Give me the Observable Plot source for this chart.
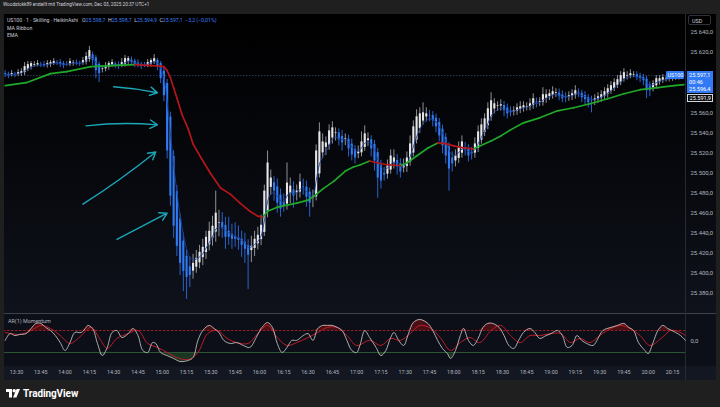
<!DOCTYPE html>
<html><head><meta charset="utf-8">
<script src="https://cdn.jsdelivr.net/npm/d3@7"></script>
<script src="https://cdn.jsdelivr.net/npm/@observablehq/plot@0.6"></script>
<style>
html,body{margin:0;padding:0;background:#1f1f1f;}
#root{position:relative;width:720px;height:407px;overflow:hidden;background:#1f1f1f;font-family:Roboto,"Noto Sans",sans-serif;}
.a{position:absolute;white-space:nowrap;}
#paneMain{left:4px;top:14px;width:712px;height:299px;background:linear-gradient(#000 0%,#05060a 40%,#0f121b 100%);}
#paneOsc{left:4px;top:314px;width:712px;height:52px;background:#0c0f17;}
#paneTime{left:4px;top:366px;width:712px;height:14px;background:#131722;}
#sepH{left:4px;top:313px;width:712px;height:1px;background:#3e424d;}
#sepV{left:685px;top:14px;width:1px;height:366px;background:#262a35;}
#svgMain{left:4px;top:14px;}
#svgOsc{left:4px;top:314px;}
.hdr{left:3px;top:2px;font-size:4.7px;color:#d1d4dc;}
.leg{left:7px;font-size:5.2px;color:#c9ccd4;}
.b{color:#3d7ff5;}
.box{background:#3179f5;color:#fff;font-size:5.6px;text-align:left;}
</style></head>
<body><div id="root">
<div class="a" id="paneMain"></div>
<div class="a" id="paneOsc"></div>
<div class="a" id="paneTime"></div>
<div class="a" id="sepH"></div>
<div class="a" id="sepV"></div>
<div class="a hdr" id="hdr"></div>
<div class="a leg" style="top:16.5px" id="leg1"></div>
<div class="a leg" style="top:24.5px">MA Ribbon</div>
<div class="a leg" style="top:31.5px">EMA</div>
<div class="a leg" style="top:317.5px;left:8px;font-size:5.4px;color:#b2b5be">AR(1) Momentum</div>
<div class="a" style="left:688px;top:15px;width:23px;height:10px;border:1px solid #2f323b;border-radius:2px;box-sizing:border-box;font-size:5.4px;color:#d1d4dc;padding:1.5px 0 0 3px">USD</div>
<div class="a box" style="left:666px;top:71px;width:18px;height:8px;font-size:5.4px;padding:1px 0 0 1.5px;box-sizing:border-box;border-radius:1px">US100</div>
<div class="a box" style="left:687px;top:71px;width:26px;height:22px;padding:1px 0 0 2px;box-sizing:border-box;line-height:6.8px">25.597,1<br>00:46<br>25.596,4</div>
<div class="a" style="left:687px;top:93.5px;width:26px;height:8px;border:1px solid #d1d4dc;background:#0b0c10;color:#fff;font-size:5.6px;padding:0.5px 0 0 1.5px;box-sizing:border-box">25.591,9</div>
<div class="a" style="left:6px;top:388px;display:flex;align-items:center;gap:3px">
<svg width="14" height="9" viewBox="0 0 14 9"><path d="M0 0h6v8.5h-3v-5.5h-3z" fill="#fff"/><circle cx="8.2" cy="1.8" r="1.7" fill="#fff"/><path d="M10.6 0h3.4l-3.6 8.5h-3.4z" fill="#fff"/></svg>
<span style="font-size:10px;font-weight:700;color:#fff;letter-spacing:-0.1px">TradingView</span></div>
</div>
<script>
// ---- data ----
const header = "Woodstokk89 erstellt mit TradingView.com, Dec 03, 2025 20:37 UTC+1";
const candleStart = "13:23"; // 2-minute Heikin Ashi candles
const closes = [
25598,25597,25599,25598,25600,25601,25606,25608,25609,25608,
25609,25608,25607,25609,25610,25611,25610,25608,25607,25608,
25611,25610,25609,25609,25612,25616,25622,25612,25602,25599,
25604,25607,25609,25610,25607,25606,25610,25614,25614,25610,
25608,25607,25606,25607,25610,25612,25614,25606,25594,25577,
25522,25477,25447,25427,25410,25402,25396,25398,25410,25415,
25421,25426,25436,25442,25447,25460,25451,25445,25436,25436,
25434,25434,25433,25428,25424,25418,25427,25434,25438,25448,
25482,25510,25495,25482,25470,25464,25467,25490,25487,25477,
25482,25491,25486,25476,25470,25477,25522,25541,25531,25530,
25542,25545,25540,25533,25530,25534,25524,25518,25515,25521,
25531,25539,25534,25524,25512,25495,25492,25498,25507,25517,
25515,25506,25501,25508,25515,25529,25546,25556,25559,25560,
25559,25557,25552,25546,25537,25527,25517,25504,25509,25517,
25525,25531,25523,25517,25519,25529,25541,25548,25554,25564,
25572,25569,25567,25568,25562,25559,25560,25562,25565,25566,
25567,25566,25569,25574,25570,25571,25578,25578,25579,25581,
25580,25576,25574,25575,25577,25579,25582,25579,25575,25573,
25570,25572,25574,25576,25578,25581,25584,25587,25590,25593,
25597,25600,25597,25599,25598,25595,25594,25592,25582,25582,
25589,25594,25594,25595,25594,25595,25596,25596,25597,25597.1];
const wickUp = [
3,2,3,2,3,3,4,3,2,3, 3,2,3,3,2,3,2,3,2,3, 3,2,3,2,3,4,4,3,2,2, 3,3,2,3,2,3,4,3,2,3,
2,3,2,3,3,2,4,2,2,3, 4,5,6,6,5,8,6,10,9,8, 7,8,6,9,10,22,12,10,8,14, 10,14,12,8,9,6,10,8,8,10,
6,12,8,6,8,6,8,20,8,8, 6,8,8,6,4,6,6,9,8,6, 6,6,5,4,6,5,4,5,4,6, 10,8,6,4,4,4,5,6,6,6,
8,6,5,6,6,8,6,7,6,10, 6,5,4,4,4,4,4,4,6,6, 6,6,5,4,5,6,6,6,5,6, 8,5,4,5,4,4,4,4,4,5,
4,4,5,5,4,4,7,5,4,5, 4,4,4,4,4,4,5,4,3,4, 3,4,4,4,4,4,4,4,4,4, 4,4,4,4,3,3,3,3,3,3,
3,3,3,3,3,3,3,2,2,2];
const wickDn = [
3,3,2,3,2,3,3,2,3,2, 2,3,2,3,3,2,3,3,3,2, 2,3,2,3,2,3,3,5,8,9, 4,3,3,2,3,3,2,3,3,2,
3,2,3,2,2,3,2,4,5,6, 8,10,12,10,12,20,22,12,8,6, 6,8,7,6,8,10,14,10,12,8, 10,8,10,12,14,34,12,8,6,6,
4,6,8,10,10,8,6,6,10,12, 8,6,8,10,14,10,4,4,6,8, 5,6,8,6,8,6,8,6,6,5, 4,4,6,8,10,20,8,6,5,4,
6,8,6,5,6,4,4,4,5,4, 5,6,6,6,6,8,8,22,8,6, 5,5,6,6,6,5,4,4,4,4, 4,5,5,5,6,5,4,4,4,4,
4,4,4,4,5,4,4,5,4,4, 4,4,4,5,4,4,4,4,5,5, 5,12,5,4,4,4,4,3,3,3, 3,3,4,3,3,3,4,5,8,6,
4,3,3,3,3,3,3,3,3,3];
const maTimes = ["13:23","13:36","13:51","14:01","14:16","14:28","14:43","14:53","14:59","15:01","15:03","15:05","15:07","15:09","15:12","15:16","15:19","15:24","15:30","15:36","15:42","15:48","15:54","15:59","16:02","16:05","16:11","16:17","16:23","16:30","16:33","16:39","16:46","16:53","16:58","17:02","17:08","17:13","17:20","17:27","17:31","17:37","17:44","17:50","17:54","18:00","18:06","18:12","18:16","18:23","18:29","18:35","18:43","18:53","19:04","19:14","19:24","19:35","19:45","19:55","20:06","20:16","20:22"];
const maValues = [25587,25590,25599,25601,25606,25607,25608,25607,25606.5,25606,25602,25595,25585,25575,25559,25544,25529,25515,25499,25485,25479,25470,25462,25457,25456,25462,25466,25468,25470,25473,25476,25484,25492,25502,25506,25508,25512,25510,25508,25507.5,25510,25517,25525,25530,25529.5,25527,25525,25524,25527,25532,25537,25543,25550,25555,25562,25565,25569,25574,25579,25583,25585,25587,25588];
const oscTimes = ["13:23","13:26","13:29","13:32","13:36","13:39","13:42","13:45","13:48","13:51","13:54","13:57","14:00","14:03","14:06","14:10","14:13","14:14","14:17","14:20","14:23","14:26","14:29","14:32","14:35","14:39","14:42","14:45","14:48","14:51","14:54","14:56","14:59","15:03","15:07","15:11","15:16","15:19","15:22","15:25","15:29","15:32","15:35","15:38","15:42","15:46","15:50","15:54","15:58","16:01","16:05","16:08","16:11","16:14","16:17","16:20","16:23","16:27","16:30","16:33","16:36","16:39","16:42","16:45","16:48","16:51","16:54","16:57","17:00","17:02","17:05","17:08","17:12","17:15","17:18","17:21","17:23","17:26","17:29","17:32","17:35","17:39","17:44","17:47","17:50","17:53","17:56","17:58","18:01","18:04","18:06","18:09","18:12","18:15","18:18","18:21","18:24","18:28","18:31","18:34","18:37","18:40","18:43","18:47","18:50","18:53","18:57","19:00","19:04","19:07","19:10","19:13","19:16","19:19","19:22","19:26","19:29","19:32","19:37","19:41","19:45","19:48","19:51","19:54","19:58","20:00","20:03","20:06","20:09","20:12","20:17","20:20","20:23"];
const oscValues = [0.05,0.36,0.27,0.32,0.36,0.59,0.82,0.82,0.64,0.5,0.27,-0.05,-0.41,-0.05,0.41,0.41,0.64,0.73,0.59,-0.09,-0.64,-0.27,0.41,0.5,0.18,0.36,0.59,0.27,-0.41,-0.5,-0.05,-0.09,-0.5,-0.64,-0.77,-0.91,-0.86,-0.73,0.05,0.5,0.73,0.59,0.41,0.05,-0.09,-0.05,-0.18,-0.27,0.18,0.59,0.86,0.64,-0.09,-0.5,-0.27,0.05,0.05,0.27,0.36,0.05,0.59,0.73,0.73,0.73,0.64,0.5,0.05,-0.41,-0.5,-0.18,0.5,0.18,-0.27,-0.64,-0.41,0.18,0.41,0.05,-0.18,0.36,0.86,1.0,0.82,0.5,0.05,-0.32,-0.55,-0.77,-0.41,0.27,0.59,0.05,-0.18,0.14,0.64,0.82,0.82,0.64,0.27,-0.18,-0.32,0.05,0.41,0.59,0.41,0.14,0.27,0.36,0.5,0.27,-0.27,-0.18,0.27,0.05,-0.09,-0.18,0.14,0.5,0.64,0.73,0.82,0.64,0.5,-0.05,-0.41,-0.55,-0.05,0.5,0.73,0.59,0.41,0.27,0.05];
const sigTimes = ["13:23","13:32","13:39","13:45","13:51","13:57","14:03","14:10","14:16","14:22","14:26","14:32","14:39","14:45","14:51","14:57","15:03","15:09","15:16","15:22","15:28","15:34","15:40","15:46","15:53","15:59","16:05","16:11","16:17","16:23","16:30","16:36","16:42","16:48","16:54","17:00","17:08","17:15","17:21","17:27","17:33","17:39","17:46","17:52","17:58","18:04","18:10","18:16","18:23","18:29","18:35","18:41","18:47","18:53","19:00","19:06","19:12","19:18","19:24","19:30","19:37","19:43","19:49","19:55","20:01","20:08","20:14","20:20","20:23"];
const sigValues = [0.41,0.32,0.5,0.73,0.59,0.27,-0.09,0.27,0.64,0.05,-0.32,0.14,0.36,0.5,-0.09,-0.27,-0.5,-0.73,-0.82,-0.5,0.36,0.5,0.14,-0.05,-0.09,0.36,0.73,0.18,-0.18,-0.05,0.18,0.41,0.64,0.64,0.27,-0.18,0.05,-0.18,0.14,0.05,0.36,0.73,0.59,0.14,-0.41,-0.05,0.18,-0.05,0.5,0.73,0.27,-0.05,0.27,0.27,0.36,0.36,-0.05,0.14,-0.05,0.27,0.59,0.73,0.59,0.27,-0.18,0.14,0.5,0.41,0.27];
const oscLevels = [0.5, -0.5];
const arrowFromT = ["14:30","14:13","14:11","14:32"];
const arrowFromP = [25586,25547,25469,25434];
const arrowToT = ["14:57","14:57","14:56","15:03"];
const arrowToP = [25580,25548,25521,25460];
// price ticks visible on the axis (25.580 and 25.600 sit under the price boxes)
const priceTicks = [25380,25400,25420,25440,25460,25480,25500,25520,25540,25560,25620,25640];
const timeTicks = ["13:30","13:45","14:00","14:15","14:30","14:45","15:00","15:15","15:30","15:45","16:00","16:15","16:30","16:45","17:00","17:15","17:30","17:45","18:00","18:15","18:30","18:45","19:00","19:15","19:30","19:45","20:00","20:15"];
const legendParts = [["US100 · 1 · Skilling · HeikinAshi  ",""],["O","25.598,7"],["H","25.598,7"],["L","25.594,9"],["C","25.597,1"],["","−3,2 (−0,01%)"]];

// ---- build ----
document.getElementById("hdr").textContent = header;
document.getElementById("leg1").innerHTML = legendParts.map(([k,v]) => k + (v ? `<span class="b">${v}</span>` : "")).join("&nbsp;&nbsp;");
const T = hm => { const [h, m] = hm.split(":").map(Number); return new Date(Date.UTC(2025, 11, 3, h, m)); };
const fmtDE = d3.formatLocale({decimal: ",", thousands: ".", grouping: [3], currency: ["", ""]}).format(",.1f");
const t0 = +T(candleStart);
let pO = closes[0] + 1, pC = closes[0];
const candles = closes.map((c, i) => {
  const o = i === 0 ? pO : (pO + pC) / 2;
  pO = o; pC = c;
  const top = Math.max(o, c), bot = Math.min(o, c);
  return {date: new Date(t0 + i * 120000), open: o, close: Math.abs(c - o) < 0.6 ? o - 0.6 : c,
          high: top + wickUp[i], low: bot - wickDn[i], up: c >= o};
});
let e = closes[0];
const ema = closes.map((c, i) => { e = i ? e + (c - e) * 2 / 6 : c; return {date: new Date(t0 + i * 120000), v: e}; });
const maPts = maTimes.map((t, i) => ({date: T(t), v: maValues[i]}));
const maSegs = d3.pairs(maPts).map(([a, b]) => ({x1: a.date, y1: a.v, x2: b.date, y2: b.v, down: b.v < a.v}));
const arrows = arrowFromT.map((t, i) => ({x1: T(t), y1: arrowFromP[i], x2: T(arrowToT[i]), y2: arrowToP[i]}));
const bends = [4, 6, -3, 0];
const oscPts = oscTimes.map((t, i) => ({date: T(t), v: oscValues[i]}));
const sigPts = sigTimes.map((t, i) => ({date: T(t), v: sigValues[i]}));
const xDomain = [T("13:30"), T("20:15")];
const xL = T("13:22"), xR = T("20:23");
const st = {background: "transparent", color: "#b2b5be", fontFamily: "Roboto, sans-serif", position: "absolute"};

const main = Plot.plot({
  width: 712, height: 299, marginLeft: 12, marginRight: 44, marginTop: 18, marginBottom: 20,
  style: st,
  x: {type: "utc", domain: xDomain, axis: null},
  y: {domain: [25380, 25640]},
  marks: [
    Plot.axisY({ticks: priceTicks, anchor: "right", tickSize: 0, tickPadding: 18, tickFormat: fmtDE, fontSize: 5.9, fill: "#b2b5be", label: null}),
    Plot.ruleY([closes[closes.length - 1]], {x1: xL, x2: xR, stroke: "#2a3a60", strokeDasharray: "1.5,1.5"}),
    Plot.ruleX(candles.filter(d => d.up), {x: "date", y1: "low", y2: "high", stroke: "#8f9196", strokeWidth: 1}),
    Plot.ruleX(candles.filter(d => !d.up), {x: "date", y1: "low", y2: "high", stroke: "#2a62cc", strokeWidth: 1}),
    Plot.ruleX(candles.filter(d => d.up), {x: "date", y1: "open", y2: "close", stroke: "#e6e6e8", strokeWidth: 2.1}),
    Plot.ruleX(candles.filter(d => !d.up), {x: "date", y1: "open", y2: "close", stroke: "#2f7bf2", strokeWidth: 2.1}),
    Plot.line(ema, {x: "date", y: "v", stroke: "#1b3f99", strokeWidth: 0.9, curve: "catmull-rom"}),
    Plot.link(maSegs.filter(d => !d.down), {x1: "x1", y1: "y1", x2: "x2", y2: "y2", stroke: "#1fa82a", strokeWidth: 1.7, strokeLinecap: "round"}),
    Plot.link(maSegs.filter(d => d.down), {x1: "x1", y1: "y1", x2: "x2", y2: "y2", stroke: "#b3161b", strokeWidth: 1.7, strokeLinecap: "round"}),
    ...arrows.map((a, i) => Plot.arrow([a], {x1: "x1", y1: "y1", x2: "x2", y2: "y2", bend: bends[i], stroke: "#1ba6b8", strokeWidth: 1.4, headLength: 9}))
  ]
});
main.id = "svgMain"; main.classList.add("a");
document.getElementById("root").appendChild(main);

const osc = Plot.plot({
  width: 712, height: 66, marginLeft: 12, marginRight: 44, marginTop: 0, marginBottom: 14,
  style: st,
  x: {type: "utc", domain: xDomain, axis: null},
  y: {domain: [-1.136, 1.227], axis: null},
  marks: [
    Plot.areaY(oscPts, {x: "date", y1: oscLevels[0], y2: d => Math.max(d.v, oscLevels[0]), curve: "catmull-rom", fill: "#4a0f14"}),
    Plot.areaY(oscPts, {x: "date", y1: oscLevels[1], y2: d => Math.min(d.v, oscLevels[1]), curve: "catmull-rom", fill: "#1a3622"}),
    Plot.ruleY([oscLevels[0]], {x1: xL, x2: xR, stroke: "#9a2027", strokeDasharray: "2.5,1.5"}),
    Plot.ruleY([oscLevels[1]], {x1: xL, x2: xR, stroke: "#2c5534"}),
    Plot.line(sigPts, {x: "date", y: "v", curve: "catmull-rom", stroke: "#c01d29", strokeWidth: 1}),
    Plot.line(oscPts, {x: "date", y: "v", curve: "catmull-rom", stroke: "#bdbdbd", strokeWidth: 0.9}),
    Plot.axisX({ticks: timeTicks.map(T), tickFormat: "%H:%M", tickSize: 0, tickPadding: 4, fontSize: 5.4, fill: "#b2b5be", label: null}),
    Plot.axisY({ticks: [0], anchor: "right", tickSize: 0, tickPadding: 18, tickFormat: fmtDE, fontSize: 5.9, fill: "#b2b5be", label: null})
  ]
});
osc.id = "svgOsc"; osc.classList.add("a");
document.getElementById("root").appendChild(osc);
// keep overlay labels on top
document.querySelectorAll("#root > div.box, #root > div[style*='25.591']").forEach(n => document.getElementById("root").appendChild(n));
</script>
</body></html>
